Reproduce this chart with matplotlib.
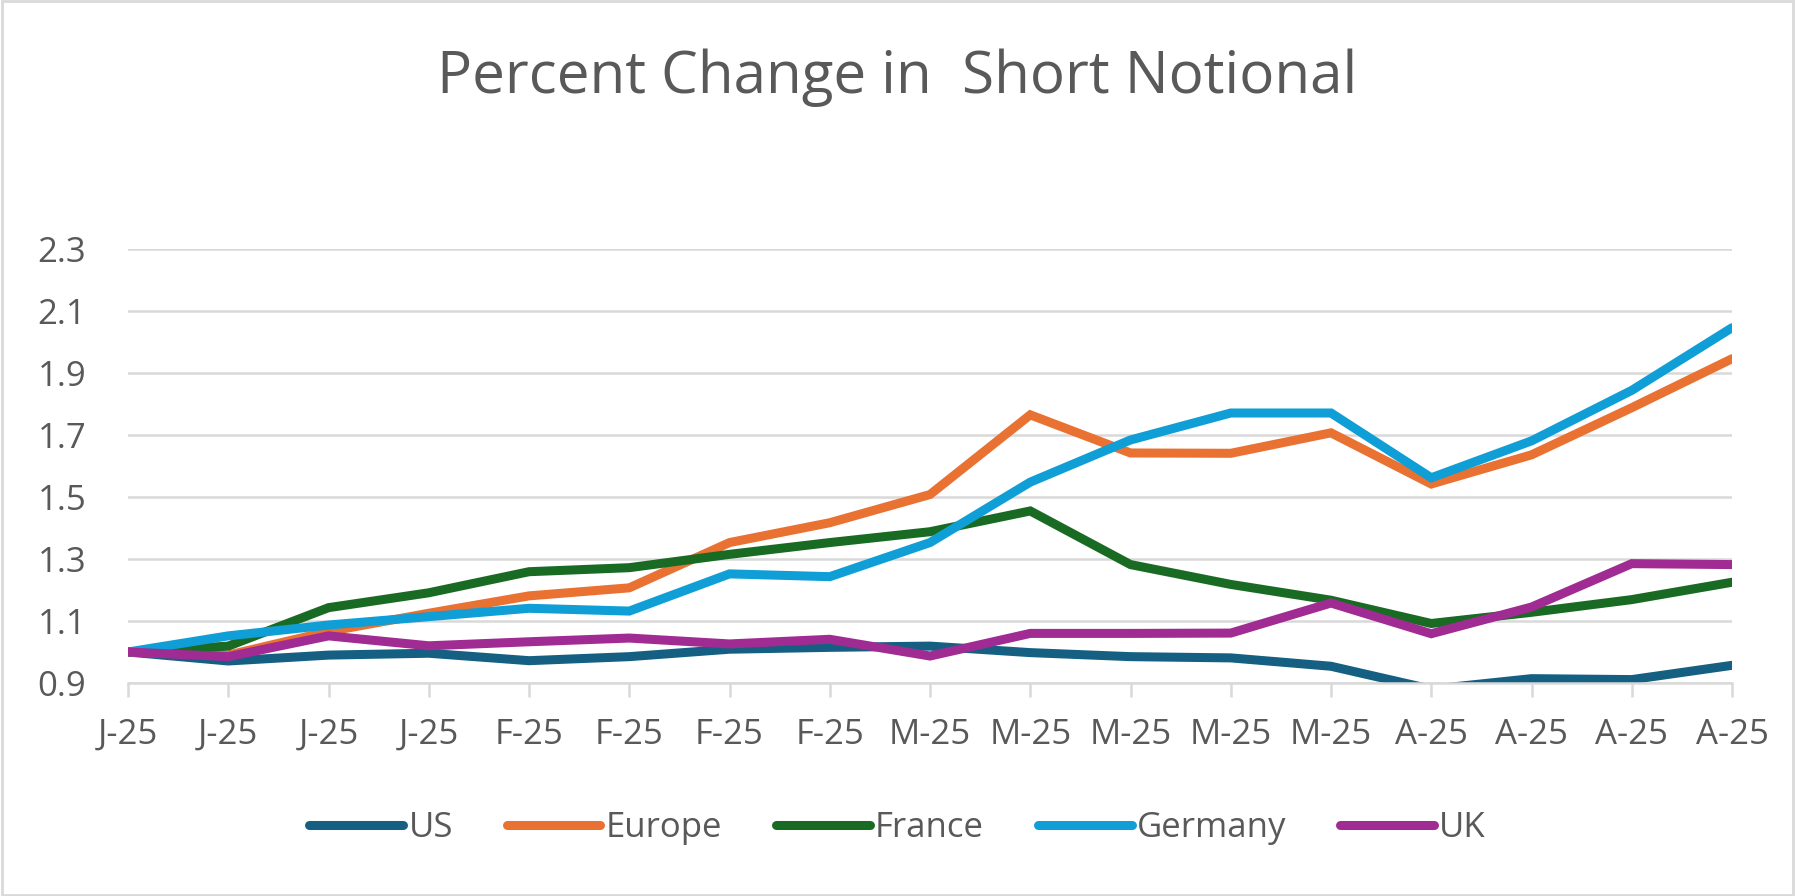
import matplotlib.pyplot as plt
from matplotlib.patches import Rectangle

# 데이터
labels = ["J-25", "J-25", "J-25", "J-25", "F-25", "F-25", "F-25", "F-25", "M-25",
          "M-25", "M-25", "M-25", "M-25", "A-25", "A-25", "A-25", "A-25"]
us = [1.0, 0.971, 0.990, 0.996, 0.972, 0.985, 1.009, 1.015, 1.019,
      0.998, 0.985, 0.981, 0.954, 0.880, 0.914, 0.911, 0.957]
europe = [1.0, 0.990, 1.066, 1.125, 1.181, 1.207, 1.353, 1.417, 1.508,
          1.765, 1.642, 1.641, 1.707, 1.542, 1.636, 1.788, 1.946]
france = [1.0, 1.019, 1.143, 1.191, 1.259, 1.272, 1.315, 1.353, 1.388,
          1.455, 1.282, 1.218, 1.167, 1.092, 1.128, 1.169, 1.225]
germany = [1.0, 1.052, 1.087, 1.114, 1.141, 1.132, 1.252, 1.243, 1.353,
           1.548, 1.684, 1.771, 1.771, 1.562, 1.681, 1.844, 2.046]
uk = [1.0, 0.985, 1.052, 1.020, 1.033, 1.045, 1.026, 1.041, 0.987,
      1.060, 1.060, 1.061, 1.158, 1.059, 1.145, 1.285, 1.282]
y_ticks = [0.9, 1.1, 1.3, 1.5, 1.7, 1.9, 2.1, 2.3]

series = [
    ("US", us, "#156082"),
    ("Europe", europe, "#E97132"),
    ("France", france, "#196B24"),
    ("Germany", germany, "#0F9ED5"),
    ("UK", uk, "#A02B93"),
]

plt.rcParams["font.family"] = ["Open Sans", "DejaVu Sans"]
TEXT = "#595959"
GRID = "#D9D9D9"

fig = plt.figure(figsize=(17.95, 8.96), dpi=100)
ax = fig.add_axes([128 / 1795, 1 - 683 / 896, (1732 - 128) / 1795, (683 - 249) / 896])

x = list(range(len(labels)))
for name, vals, color in series:
    ax.plot(x, vals, color=color, lw=6.5, solid_capstyle="round",
            solid_joinstyle="miter", label=name)

ax.set_xlim(0, len(labels) - 1)
ax.set_ylim(0.9, 2.3)
ax.set_yticks(y_ticks)
ax.set_yticklabels([f"{v:.1f}" for v in y_ticks])
ax.set_xticks(x)
ax.set_xticklabels(labels)

ax.grid(axis="y", color=GRID, lw=1.8)
ax.set_axisbelow(True)
for s in ["top", "right", "left"]:
    ax.spines[s].set_visible(False)
ax.spines["bottom"].set_color(GRID)
ax.spines["bottom"].set_linewidth(1.8)
ax.tick_params(axis="y", length=0, labelsize=25, labelcolor=TEXT, pad=30)
ax.tick_params(axis="x", length=10, width=1.8, color=GRID, direction="out",
               labelsize=25, labelcolor=TEXT, pad=15)

fig.suptitle("Percent Change in  Short Notional", y=1 - 78 / 896, va="center",
             fontsize=42, color=TEXT)

fig.legend(loc="center", bbox_to_anchor=(0.5, 1 - 828 / 896), ncol=5, frameon=False,
           fontsize=25, labelcolor=TEXT, handlelength=2.7, handletextpad=0.15,
           columnspacing=1.55)

fig.patches.append(Rectangle((0.001, 0.001), 0.998, 0.998, transform=fig.transFigure,
                             fill=False, edgecolor=GRID, lw=2))

fig.savefig("out.png", dpi=100)
